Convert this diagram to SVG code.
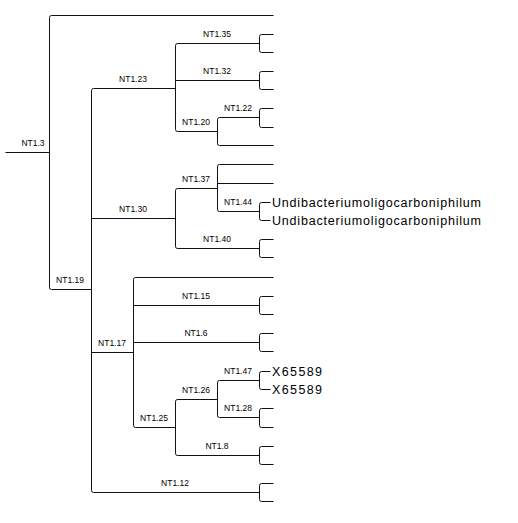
<svg xmlns="http://www.w3.org/2000/svg" width="518" height="523" viewBox="0 0 518 523">
<style>
.c path{fill:none;stroke:#111;stroke-width:1}
.l{font-family:"Liberation Sans",Arial,sans-serif;font-size:8.5px;fill:#000;text-anchor:middle}
.t{font-family:"Liberation Sans",Arial,sans-serif;font-size:12.5px;fill:#000}
</style>
<rect width="518" height="523" fill="#fff"/>
<g id="connectors" class="c" transform="translate(0.5,0.5)">
<path d="M5,152 H49"/>
<path d="M273,15 H51 Q49,15 49,17 V287 Q49,289 51,289 H91"/>
<path d="M175,88 H93 Q91,88 91,90 V490 Q91,492 93,492 H259 M91,218 H175 M91,352 H133"/>
<path d="M259,43 H177 Q175,43 175,45 V129 Q175,131 177,131 H217 M175,80 H259"/>
<path d="M273,34 H261 Q259,34 259,36 V50 Q259,52 261,52 H273"/>
<path d="M273,71 H261 Q259,71 259,73 V87 Q259,89 261,89 H273"/>
<path d="M259,117 H219 Q217,117 217,119 V143 Q217,145 219,145 H273"/>
<path d="M273,108 H261 Q259,108 259,110 V125 Q259,127 261,127 H273"/>
<path d="M217,188 H177 Q175,188 175,190 V246 Q175,248 177,248 H259"/>
<path d="M273,164 H219 Q217,164 217,166 V209 Q217,211 219,211 H259 M217,183 H273"/>
<path d="M270,202 H261 Q259,202 259,204 V218 Q259,220 261,220 H270"/>
<path d="M273,239 H261 Q259,239 259,241 V255 Q259,257 261,257 H273"/>
<path d="M273,277 H135 Q133,277 133,279 V425 Q133,427 135,427 H175 M133,305 H259 M133,342 H259"/>
<path d="M273,296 H261 Q259,296 259,298 V312 Q259,314 261,314 H273"/>
<path d="M273,333 H261 Q259,333 259,335 V349 Q259,351 261,351 H273"/>
<path d="M217,399 H177 Q175,399 175,401 V453 Q175,455 177,455 H259"/>
<path d="M259,380 H219 Q217,380 217,382 V415 Q217,417 219,417 H259"/>
<path d="M270,371 H261 Q259,371 259,373 V387 Q259,389 261,389 H270"/>
<path d="M273,408 H261 Q259,408 259,410 V425 Q259,427 261,427 H273"/>
<path d="M273,446 H261 Q259,446 259,448 V462 Q259,464 261,464 H273"/>
<path d="M273,483 H261 Q259,483 259,485 V499 Q259,501 261,501 H273"/>
</g>
<g id="NT1.3"><text class="l" x="33" y="146">NT1.3</text></g>
<g id="NT1.19"><text class="l" x="70" y="283">NT1.19</text></g>
<g id="NT1.23"><text class="l" x="133" y="82">NT1.23</text></g>
<g id="NT1.30"><text class="l" x="133" y="212">NT1.30</text></g>
<g id="NT1.17"><text class="l" x="112" y="346">NT1.17</text></g>
<g id="NT1.12"><text class="l" x="175" y="486">NT1.12</text></g>
<g id="NT1.35"><text class="l" x="217" y="37">NT1.35</text></g>
<g id="NT1.32"><text class="l" x="217" y="74">NT1.32</text></g>
<g id="NT1.20"><text class="l" x="196" y="125">NT1.20</text></g>
<g id="NT1.22"><text class="l" x="238" y="111">NT1.22</text></g>
<g id="NT1.37"><text class="l" x="196" y="182">NT1.37</text></g>
<g id="NT1.44"><text class="l" x="238" y="205">NT1.44</text></g>
<g id="NT1.40"><text class="l" x="217" y="242">NT1.40</text></g>
<g id="NT1.15"><text class="l" x="196" y="299">NT1.15</text></g>
<g id="NT1.6"><text class="l" x="196" y="336">NT1.6</text></g>
<g id="NT1.25"><text class="l" x="154" y="421">NT1.25</text></g>
<g id="NT1.26"><text class="l" x="196" y="393">NT1.26</text></g>
<g id="NT1.47"><text class="l" x="238" y="374">NT1.47</text></g>
<g id="NT1.28"><text class="l" x="238" y="411">NT1.28</text></g>
<g id="NT1.8"><text class="l" x="217" y="449">NT1.8</text></g>
<g id="leaf-undib-1"><text class="t" x="272" y="206.5" textLength="209" lengthAdjust="spacing">Undibacteriumoligocarboniphilum</text></g>
<g id="leaf-undib-2"><text class="t" x="272" y="224.5" textLength="209" lengthAdjust="spacing">Undibacteriumoligocarboniphilum</text></g>
<g id="leaf-x65589-1"><text class="t" x="272" y="375.5" textLength="50" lengthAdjust="spacing">X65589</text></g>
<g id="leaf-x65589-2"><text class="t" x="272" y="393.5" textLength="50" lengthAdjust="spacing">X65589</text></g>
</svg>
